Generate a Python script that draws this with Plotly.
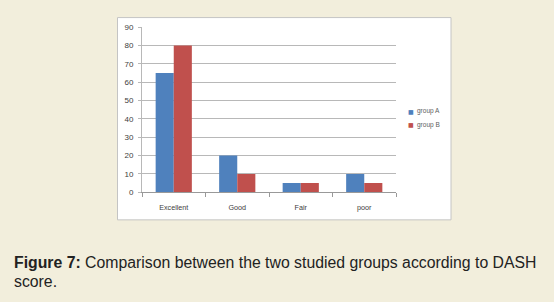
import plotly.graph_objects as go

categories = ["Excellent", "Good", "Fair", "poor"]
group_a = [65, 20, 5, 10]
group_b = [80, 10, 5, 5]
series_names = ["group A", "group B"]
y_ticks = [0, 10, 20, 30, 40, 50, 60, 70, 80, 90]

W, H = 554, 302
BLUE = "#4F81BD"
RED = "#C0504D"
BG = "#F2EEDC"
series_colors = [BLUE, RED]

fig = go.Figure()
for vals, nm, col in zip([group_a, group_b], series_names, series_colors):
    fig.add_trace(go.Bar(x=categories, y=vals, name=nm,
                         marker=dict(color=col, line=dict(width=0)), showlegend=False))


def px_x(p):
    return p / W


def px_y(p):
    return (H - p) / H


# legend drawn as text (small square glyph + label)
legend_ann = []
for i, (nm, col) in enumerate(zip(series_names, series_colors)):
    yc = 110.7 + i * 14
    legend_ann.append(dict(text="■", xref="paper", yref="paper", x=px_x(410.5), y=px_y(yc),
                           xanchor="center", yanchor="middle", showarrow=False,
                           font=dict(family="DejaVu Sans", size=6, color=col)))
    legend_ann.append(dict(text=nm, xref="paper", yref="paper", x=px_x(414.5), y=px_y(yc),
                           xanchor="left", yanchor="middle", showarrow=False,
                           font=dict(family="Liberation Sans, Arial", size=6.5, color="#606060")))

cap_font = dict(family="Liberation Sans, Arial", size=15.8, color="#222222")

fig.update_layout(
    width=W, height=H,
    margin=dict(l=0, r=0, t=0, b=0),
    paper_bgcolor=BG,
    plot_bgcolor="white",
    barmode="group",
    bargap=0.43,
    bargroupgap=0,
    showlegend=False,
    font=dict(family="Liberation Sans, Arial", size=7, color="#404040"),
    xaxis=dict(domain=[px_x(142), px_x(396)], showgrid=False,
               showline=True, linecolor="#999999", linewidth=1,
               ticks="outside", tickson="boundaries", ticklen=4, tickcolor="#999999",
               ticklabelstandoff=8,
               tickfont=dict(size=7.2, color="#404040"), fixedrange=True),
    yaxis=dict(domain=[px_y(194), px_y(24)], range=[0, 90], tickvals=y_ticks,
               showgrid=True, gridcolor="#B8B8B8", gridwidth=1,
               showline=True, linecolor="#B8B8B8", linewidth=1,
               ticks="outside", ticklen=3, tickcolor="#B8B8B8",
               ticklabelstandoff=3,
               tickfont=dict(size=8, color="#404040"), zeroline=False, fixedrange=True),
    shapes=[dict(type="rect", xref="paper", yref="paper",
                 x0=px_x(117.5), x1=px_x(451), y0=px_y(222.5), y1=px_y(14),
                 fillcolor="white", line=dict(color="#C4C4C4", width=1), layer="below")],
    annotations=legend_ann + [
        dict(text="<b>Figure 7:</b> Comparison between the two studied groups according to DASH",
             xref="paper", yref="paper", x=px_x(12), y=px_y(266.5), xanchor="left", yanchor="middle",
             showarrow=False, font=cap_font),
        dict(text="score.",
             xref="paper", yref="paper", x=px_x(12), y=px_y(286.5), xanchor="left", yanchor="middle",
             showarrow=False, font=cap_font),
    ],
)

fig.write_html("out.html")
